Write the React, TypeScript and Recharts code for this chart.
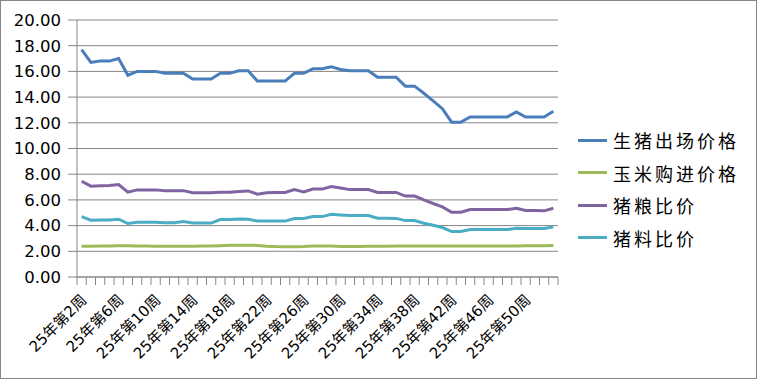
import React from 'react';
import { LineChart, Line, XAxis, YAxis, CartesianGrid } from 'recharts';

const weeks = [
  '25年第2周', '25年第3周', '25年第4周', '25年第5周', '25年第6周', '25年第7周', '25年第8周',
  '25年第9周', '25年第10周', '25年第11周', '25年第12周', '25年第13周', '25年第14周', '25年第15周',
  '25年第16周', '25年第17周', '25年第18周', '25年第19周', '25年第20周', '25年第21周', '25年第22周',
  '25年第23周', '25年第24周', '25年第25周', '25年第26周', '25年第27周', '25年第28周', '25年第29周',
  '25年第30周', '25年第31周', '25年第32周', '25年第33周', '25年第34周', '25年第35周', '25年第36周',
  '25年第37周', '25年第38周', '25年第39周', '25年第40周', '25年第41周', '25年第42周', '25年第43周',
  '25年第44周', '25年第45周', '25年第46周', '25年第47周', '25年第48周', '25年第49周', '25年第50周',
  '25年第51周', '25年第52周', '25年第53周',
];

const hogPrice = [
  17.7, 16.7, 16.8, 16.8, 17.0, 15.7, 16.0, 16.0, 16.0, 15.85, 15.85, 15.85, 15.4, 15.4, 15.4,
  15.85, 15.85, 16.05, 16.05, 15.25, 15.25, 15.25, 15.25, 15.85, 15.85, 16.2, 16.2, 16.35, 16.15,
  16.05, 16.05, 16.05, 15.55, 15.55, 15.55, 14.85, 14.85, 14.3, 13.7, 13.1, 12.05, 12.05, 12.45,
  12.45, 12.45, 12.45, 12.45, 12.85, 12.45, 12.45, 12.45, 12.9,
];

const cornPrice = [
  2.4, 2.4, 2.41, 2.42, 2.43, 2.43, 2.42, 2.41, 2.4, 2.4, 2.4, 2.4, 2.4, 2.41, 2.42, 2.44, 2.47,
  2.48, 2.48, 2.46, 2.4, 2.37, 2.36, 2.36, 2.37, 2.41, 2.42, 2.41, 2.37, 2.37, 2.38, 2.39, 2.4,
  2.4, 2.41, 2.42, 2.42, 2.42, 2.42, 2.42, 2.42, 2.42, 2.42, 2.41, 2.41, 2.41, 2.41, 2.42, 2.43,
  2.43, 2.44, 2.46,
];

const grainRatio = [
  7.45, 7.07, 7.1, 7.12, 7.2, 6.6, 6.78, 6.78, 6.78, 6.72, 6.72, 6.72, 6.55, 6.55, 6.55, 6.6, 6.6,
  6.65, 6.7, 6.45, 6.55, 6.58, 6.58, 6.8, 6.62, 6.84, 6.84, 7.04, 6.92, 6.8, 6.8, 6.8, 6.58, 6.58,
  6.58, 6.3, 6.3, 6.0, 5.72, 5.46, 5.04, 5.04, 5.25, 5.25, 5.25, 5.25, 5.25, 5.35, 5.17, 5.17,
  5.15, 5.35,
];

const feedRatio = [
  4.7, 4.42, 4.44, 4.44, 4.5, 4.16, 4.26, 4.26, 4.26, 4.22, 4.22, 4.32, 4.2, 4.2, 4.2, 4.47, 4.47,
  4.52, 4.5, 4.36, 4.35, 4.35, 4.35, 4.55, 4.55, 4.7, 4.7, 4.88, 4.83, 4.78, 4.78, 4.78, 4.57,
  4.57, 4.56, 4.39, 4.39, 4.18, 4.03, 3.85, 3.54, 3.54, 3.69, 3.69, 3.69, 3.69, 3.69, 3.8, 3.77,
  3.77, 3.77, 3.9,
];

const yTicks = [0, 2, 4, 6, 8, 10, 12, 14, 16, 18, 20];

const series = [
  { key: 'hog', name: '生猪出场价格', color: '#4a7ebb' },
  { key: 'corn', name: '玉米购进价格', color: '#9bbb59' },
  { key: 'grain', name: '猪粮比价', color: '#8064a2' },
  { key: 'feed', name: '猪料比价', color: '#4bacc6' },
];

const data = weeks.map((w, i) => ({
  week: w,
  hog: hogPrice[i],
  corn: cornPrice[i],
  grain: grainRatio[i],
  feed: feedRatio[i],
}));

const W = 757;
const H = 379;
const M = { top: 20, right: 199, left: 0, bottom: 0 };
const Y_W = 77;
const X_H = 102;
const PLOT_W = W - M.right - M.left - Y_W;
const HALF = PLOT_W / weeks.length / 2;
const AXIS = '#868686';
const LABEL_FONT = '"DejaVu Sans", "Noto Sans CJK SC", sans-serif';

const XTick = (props: any) => {
  const { x, y, index, payload } = props;
  const lx = x + 6;
  const ly = y + 24;
  return (
    <g>
      <line x1={x - HALF} x2={x - HALF} y1={y} y2={y + 8} stroke={AXIS} />
      {index === weeks.length - 1 && (
        <line x1={x + HALF} x2={x + HALF} y1={y} y2={y + 8} stroke={AXIS} />
      )}
      {index % 4 === 0 && (
        <text
          x={lx}
          y={ly}
          textAnchor="end"
          transform={`rotate(-45 ${lx} ${ly})`}
          fontSize={15}
          fontFamily={LABEL_FONT}
          fill="#000"
        >
          {payload.value}
        </text>
      )}
    </g>
  );
};

export default function App() {
  return (
    <div style={{ position: 'relative', width: W, height: H, background: '#fff' }}>
      <style>{'body{margin:0}'}</style>
      <LineChart width={W} height={H} data={data} margin={M}>
        <CartesianGrid vertical={false} stroke={AXIS} strokeWidth={1} />
        <XAxis
          dataKey="week"
          scale="band"
          interval={0}
          height={X_H}
          tickSize={0}
          tickMargin={0}
          tickLine={false}
          axisLine={{ stroke: AXIS }}
          tick={<XTick />}
        />
        <YAxis
          width={Y_W}
          domain={[0, 20]}
          ticks={yTicks}
          interval={0}
          tickSize={9}
          tickMargin={7}
          tickFormatter={(v: number) => v.toFixed(2)}
          axisLine={{ stroke: AXIS }}
          tickLine={{ stroke: AXIS }}
          tick={{ fill: '#000', fontSize: 16.5, fontFamily: LABEL_FONT }}
        />
        {series.map(s => (
          <Line
            key={s.key}
            type="linear"
            dataKey={s.key}
            name={s.name}
            stroke={s.color}
            strokeWidth={3}
            dot={false}
            isAnimationActive={false}
          />
        ))}
      </LineChart>
      <div style={{ position: 'absolute', left: 578, top: 124 }}>
        {series.map(s => (
          <div key={s.key} style={{ display: 'flex', alignItems: 'center', height: 32.5 }}>
            <div style={{ width: 29, height: 3, background: s.color, marginRight: 6 }} />
            <span
              style={{
                fontFamily: '"Noto Sans CJK SC", sans-serif',
                fontSize: 18,
                letterSpacing: 3,
                color: '#000',
                whiteSpace: 'nowrap',
              }}
            >
              {s.name}
            </span>
          </div>
        ))}
      </div>
      <div
        style={{
          position: 'absolute',
          left: 0,
          top: 0,
          width: W,
          height: H,
          boxSizing: 'border-box',
          border: `1px solid ${AXIS}`,
          pointerEvents: 'none',
        }}
      />
    </div>
  );
}
